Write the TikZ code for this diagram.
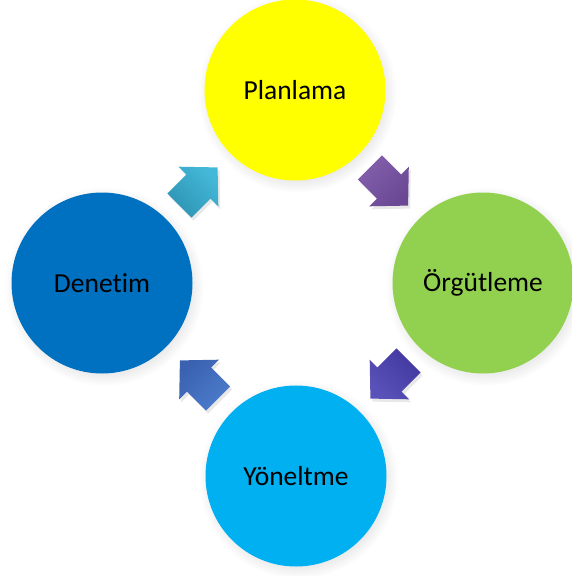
\documentclass[tikz,border=0pt]{standalone}
\usepackage{fontspec}
\setmainfont{Carlito}[Ligatures=NoCommon]
\usepackage{tikz}
\usetikzlibrary{calc}
\usetikzlibrary{shadows}

\definecolor{cyel}{HTML}{FFFF00}
\definecolor{cgrn}{HTML}{92D050}
\definecolor{clbl}{HTML}{00B0F0}
\definecolor{cblu}{HTML}{0070C0}

\begin{document}
\begin{tikzpicture}[x=1pt,y=-1pt,
    stage/.style={circle, minimum size=181pt, inner sep=0pt,
        font=\fontsize{27.5}{31}\selectfont,
        circular drop shadow={opacity=.18, shadow xshift=2pt, shadow yshift=-3pt}},
    blockarr/.style={drop shadow={opacity=.18, shadow xshift=2pt, shadow yshift=-3pt}}]
        \useasboundingbox (0,0) rectangle (572,576);
        % Nodes
        \node[stage, fill=cyel] (plan) at (295,90)  {Planlama};
        \node[stage, fill=cgrn] (org)  at (483,283) {Örgütleme};
        \node[stage, fill=clbl] (yon)  at (296,476) {Yöneltme};
        \node[stage, fill=cblu] (den)  at (102,283) {Denetim};
        % Arrows
        \foreach \a/\b/\ang/\ct/\cb in {plan/org/-45/8460AC/6A4894,
                                         org/yon/-135/5A52B8/4238A0,
                                         yon/den/135/4C7CCC/3A62B0,
                                         den/plan/45/44B8D8/2E94B4}{
            \definecolor{ctop}{HTML}{\ct}
            \definecolor{cbot}{HTML}{\cb}
            \path[blockarr, shift={($(\a)!0.5!(\b)$)}, rotate=\ang,
                  top color=ctop, bottom color=cbot, shading angle=-\ang]
                (-27,-17) -- (0,-17) -- (0,-28) -- (27,0) -- (0,28) -- (0,17) -- (-27,17) -- cycle;
        }
    \end{tikzpicture}
\end{document}
